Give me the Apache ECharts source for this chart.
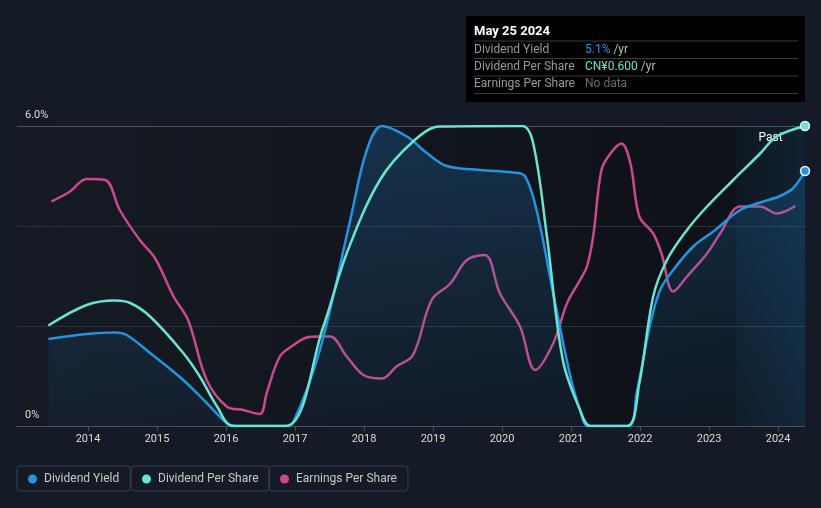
<!DOCTYPE html>
<html>
<head>
<meta charset="utf-8">
<script src="https://cdn.jsdelivr.net/npm/echarts@6/dist/echarts.min.js"></script>
<style>
html,body{margin:0;padding:0;background:#151b26;}
#chart{width:821px;height:508px;}
</style>
</head>
<body>
<div id="chart"></div>
<script>
// ---- data (x = decimal year) ----
var yearTicks = [2014, 2015, 2016, 2017, 2018, 2019, 2020, 2021, 2022, 2023, 2024];
var yTickValues = [0, 6];

// Dividend Yield, %
var dividendYield = [
  [2013.425, 1.74], [2013.98, 1.84], [2014.39, 1.87], [2014.56, 1.82], [2014.90, 1.46],
  [2015.38, 0.92], [2015.72, 0.46], [2016.01, 0.06], [2016.13, 0], [2016.86, 0],
  [2016.97, 0.06], [2017.36, 1.52], [2017.80, 4.12], [2018.04, 5.52], [2018.26, 6.0],
  [2018.62, 5.79], [2018.91, 5.46], [2019.20, 5.2], [2019.68, 5.12], [2020.16, 5.07],
  [2020.33, 5.0], [2020.50, 4.32], [2020.74, 2.66], [2020.99, 0.99], [2021.13, 0.32],
  [2021.25, 0], [2021.83, 0], [2021.95, 0.66], [2022.14, 1.99], [2022.29, 2.72],
  [2022.48, 3.12], [2022.77, 3.59], [2023.06, 3.89], [2023.45, 4.32], [2023.74, 4.47],
  [2024.03, 4.6], [2024.22, 4.76], [2024.39, 5.1]
];

// Dividend Per Share, CN¥
var dividendPerShare = [
  [2013.425, 0.201], [2013.98, 0.242], [2014.39, 0.251], [2014.61, 0.246], [2014.90, 0.219],
  [2015.38, 0.146], [2015.62, 0.099], [2015.87, 0.039], [2016.10, 0], [2016.86, 0],
  [2017.41, 0.199], [2017.75, 0.346], [2018.23, 0.492], [2018.71, 0.569], [2019.10, 0.599],
  [2020.29, 0.6], [2020.45, 0.566], [2020.65, 0.379], [2020.88, 0.132], [2021.13, 0.032],
  [2021.28, 0], [2021.81, 0], [2021.99, 0.086], [2022.19, 0.259], [2022.39, 0.332],
  [2022.68, 0.392], [2022.97, 0.439], [2023.35, 0.492], [2023.74, 0.545], [2023.98, 0.579],
  [2024.39, 0.6]
];

// Earnings Per Share (relative scale as drawn)
var earningsPerShare = [
  [2013.47, 4.49], [2013.74, 4.69], [2013.98, 4.94], [2014.25, 4.92], [2014.46, 4.32],
  [2014.75, 3.72], [2014.97, 3.36], [2015.24, 2.59], [2015.45, 2.12], [2015.72, 0.92],
  [2016.01, 0.39], [2016.25, 0.32], [2016.49, 0.24], [2016.59, 0.66], [2016.78, 1.39],
  [2016.98, 1.62], [2017.17, 1.77], [2017.34, 1.79], [2017.51, 1.79], [2017.75, 1.39],
  [2017.99, 1.02], [2018.26, 0.95], [2018.47, 1.19], [2018.71, 1.42], [2018.98, 2.52],
  [2019.25, 2.85], [2019.49, 3.32], [2019.75, 3.42], [2019.97, 2.65], [2020.26, 1.99],
  [2020.48, 1.12], [2020.74, 1.65], [2020.94, 2.45], [2021.13, 2.92], [2021.23, 3.19],
  [2021.32, 3.79], [2021.44, 5.12], [2021.57, 5.45], [2021.73, 5.65], [2021.86, 5.25],
  [2021.99, 4.19], [2022.19, 3.85], [2022.31, 3.45], [2022.48, 2.69], [2022.68, 2.99],
  [2022.97, 3.45], [2023.16, 3.85], [2023.45, 4.39], [2023.74, 4.39], [2023.98, 4.25],
  [2024.25, 4.4]
];

var xMin = 2012.971, xMax = 2024.39;
var pastStart = 2023.39;

var tipDate = 'May 25 2024';
var tipRows = [
  ['Dividend Yield', '5.1%', ' /yr'],
  ['Dividend Per Share', 'CN¥0.600', ' /yr'],
  ['Earnings Per Share', 'No data', '']
];

var C_YIELD = '#2394e0', C_DPS = '#6ae3cf', C_EPS = '#c94a8b';

function withEndMarker(arr, color) {
  return arr.map(function (p, i) {
    if (i === arr.length - 1) {
      return { value: p, symbol: 'circle', symbolSize: 9,
        itemStyle: { color: color, borderColor: '#e8f4ff', borderWidth: 1.5 } };
    }
    return { value: p };
  });
}

var chart = echarts.init(document.getElementById('chart'), null, { renderer: 'canvas' });

function legendFor(name, left) {
  return {
    data: [name], left: left, top: 466, orient: 'horizontal',
    padding: [7, 11, 6, 11], itemWidth: 9, itemHeight: 9, icon: 'circle',
    borderColor: '#3a404b', borderWidth: 1, borderRadius: 3,
    textStyle: { color: '#c8c8c8', fontSize: 12, fontFamily: 'Roboto', padding: [0, 0, 0, 2] }
  };
}

var tipX = 474, tipValX = 585;
var tipGraphics = [
  { type: 'rect', shape: { x: 466, y: 16, width: 339, height: 86 }, style: { fill: '#000000' } },
  { type: 'text', x: tipX, y: 32, style: { text: tipDate, fill: '#ffffff', font: 'bold 13px Roboto', verticalAlign: 'middle' } }
];
var sepY = [41, 58.5, 76, 93.5];
sepY.forEach(function (y) {
  tipGraphics.push({ type: 'line', shape: { x1: 474, y1: y, x2: 798, y2: y }, style: { stroke: '#3a3a3a', lineWidth: 1 } });
});
var rowY = [49.5, 66.5, 84];
var valColors = [C_YIELD, C_DPS, '#6b6b6b'];
tipRows.forEach(function (r, i) {
  tipGraphics.push({ type: 'text', x: tipX, y: rowY[i], style: { text: r[0], fill: '#9a9a9a', font: '12px Roboto', verticalAlign: 'middle' } });
  tipGraphics.push({ type: 'text', x: tipValX, y: rowY[i], style: {
    text: '{v|' + r[1] + '}{u|' + r[2] + '}', verticalAlign: 'middle', font: '12px Roboto',
    rich: { v: { fill: valColors[i], font: '12px Roboto' }, u: { fill: '#b8b8b8', font: '12px Roboto' } } } });
});

var option = {
  backgroundColor: '#151b26',
  animation: false,
  textStyle: { fontFamily: 'Roboto' },
  grid: {
    left: 17, right: 16, top: 126, bottom: 82, show: true, borderWidth: 0,
    backgroundColor: new echarts.graphic.LinearGradient(0, 0, 1, 0, [
      { offset: 0, color: '#151a24' }, { offset: 0.91, color: '#0e1117' }, { offset: 1, color: '#0e1117' }
    ])
  },
  legend: [legendFor('Dividend Yield', 17), legendFor('Dividend Per Share', 131), legendFor('Earnings Per Share', 269)],
  xAxis: {
    type: 'value', min: xMin, max: xMax,
    axisLine: { show: true, onZero: false, lineStyle: { color: '#4b505a', width: 1 } },
    axisTick: { show: true, customValues: yearTicks, length: 5, lineStyle: { color: '#4b505a' } },
    axisLabel: { customValues: yearTicks, color: '#dcdcdc', fontSize: 11, margin: 8, formatter: function (v) { return String(Math.round(v)); } },
    splitLine: { show: false }
  },
  yAxis: [
    {
      type: 'value', min: 0, max: 6, interval: 2,
      axisLine: { show: false }, axisTick: { show: false },
      axisLabel: {
        customValues: yTickValues, inside: true, margin: 8, color: '#dcdcdc', fontSize: 11,
        verticalAlign: 'bottom', padding: [0, 0, 5, 0],
        formatter: function (v) { return v === 0 ? '0%' : v.toFixed(1) + '%'; }
      },
      splitLine: { show: true, lineStyle: { color: ['#4b505a', '#2b3039', '#2b3039', '#4b505a'], width: 1 } }
    },
    { type: 'value', min: 0, max: 0.6, show: false }
  ],
  series: [
    {
      name: 'Dividend Yield', type: 'line', yAxisIndex: 0, smooth: 0.35,
      symbol: 'none', showSymbol: true, showAllSymbol: true,
      color: C_YIELD,
      lineStyle: { color: C_YIELD, width: 2.5 },
      areaStyle: {
        color: new echarts.graphic.LinearGradient(0, 0, 0, 1, [
          { offset: 0, color: 'rgba(33,140,220,0.34)' }, { offset: 1, color: 'rgba(33,140,220,0.08)' }
        ])
      },
      data: withEndMarker(dividendYield, C_YIELD),
      markArea: {
        silent: true,
        itemStyle: {
          color: new echarts.graphic.LinearGradient(0, 0, 1, 0, [
            { offset: 0, color: 'rgba(30,110,170,0.07)' }, { offset: 1, color: 'rgba(30,120,190,0.16)' }
          ])
        },
        label: { show: true, position: 'insideTop', distance: 6, color: '#ffffff', fontSize: 12, fontFamily: 'Roboto' },
        data: [[{ name: 'Past', xAxis: pastStart, yAxis: 6 }, { xAxis: xMax, yAxis: 0 }]]
      },
      z: 3
    },
    {
      name: 'Dividend Per Share', type: 'line', yAxisIndex: 1, smooth: 0.35,
      symbol: 'none', showSymbol: true, showAllSymbol: true,
      color: C_DPS,
      lineStyle: { color: C_DPS, width: 2.5 },
      data: withEndMarker(dividendPerShare, C_DPS),
      z: 4
    },
    {
      name: 'Earnings Per Share', type: 'line', yAxisIndex: 0, smooth: 0.35,
      symbol: 'none', showSymbol: false,
      color: C_EPS,
      lineStyle: { color: C_EPS, width: 2.5 },
      data: earningsPerShare,
      z: 2
    }
  ],
  graphic: tipGraphics
};
chart.setOption(option);
</script>
</body>
</html>
